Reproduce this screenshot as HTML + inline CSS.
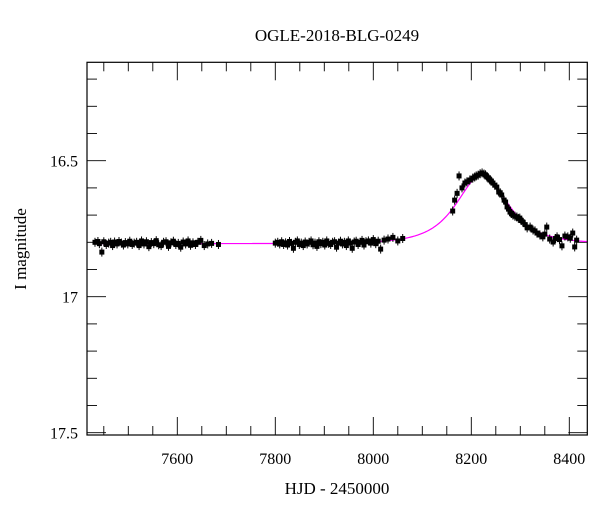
<!DOCTYPE html>
<html><head><meta charset="utf-8"><style>
html,body{margin:0;padding:0;background:#fff;}
svg{display:block;font-family:"Liberation Serif","DejaVu Serif",serif;}
</style></head><body>
<svg id="chart" width="600" height="512" viewBox="0 0 600 512" xmlns="http://www.w3.org/2000/svg">
<text x="337" y="41" font-size="17" text-anchor="middle">OGLE-2018-BLG-0249</text>
<text x="337" y="494" font-size="17" text-anchor="middle">HJD - 2450000</text>
<text x="0" y="0" font-size="17" text-anchor="middle" transform="translate(26,249) rotate(-90)">I magnitude</text>
<g id="ticks"></g>
<g id="model"></g>
<g id="pts"></g>
<rect x="87" y="62.3" width="500.3" height="372.7" fill="none" stroke="#000" stroke-width="1.2"/>
</svg>
<script>
const xTicksMajor = [7600, 7800, 8000, 8200, 8400];
const xTickLabels = ["7600", "7800", "8000", "8200", "8400"];
const yTicksMajor = [16.5, 17, 17.5];
const yTickLabels = ["16.5", "17", "17.5"];
const modelParams = [8222, 1.13, 58, 16.805]; // t0, u0, tE, baseline mag
const obsT = [7432,7438,7441,7446,7450,7455,7460,7464,7468,7472,7477,7481,7486,7490,7494,7499,7503,7508,7512,7517,7522,7527,7532,7537,7542,7547,7552,7557,7562,7567,7572,7577,7582,7587,7592,7597,7602,7607,7612,7617,7622,7627,7632,7637,7642,7648,7655,7662,7670,7684,
7800,7805,7809,7813,7817,7821,7825,7829,7833,7837,7841,7845,7849,7853,7857,7861,7865,7869,7873,7877,7881,7885,7889,7893,7897,7901,7905,7909,7913,7917,7921,7925,7929,7933,7937,7941,7945,7949,7953,7957,7961,7965,7969,7973,7977,7981,7985,7990,7995,8000,8005,8010,8015,8022,8030,8040,8050,8060,
8162,8166,8171,8175,8181,8187,8191,8197,8203,8207,8210,8214,8218,8222,8226,8229,8232,8235,8238,8241,8244,8248,8252,8256,8259,8262,8267,8270,8273,8276,8279,8282,8285,8289,8293,8296,8299,8302,8305,8310,8314,8320,8326,8330,8334,8340,8346,8350,8354,8360,8367,8372,8375,8380,8385,8391,8397,8402,8407,8411,8415];
const obsM = [16.800,16.797,16.805,16.836,16.798,16.808,16.803,16.800,16.812,16.799,16.806,16.797,16.803,16.810,16.801,16.806,16.796,16.808,16.803,16.800,16.812,16.795,16.806,16.798,16.816,16.801,16.805,16.794,16.809,16.812,16.800,16.798,16.815,16.802,16.796,16.808,16.804,16.818,16.799,16.806,16.795,16.811,16.802,16.808,16.800,16.793,16.812,16.806,16.804,16.808,
16.803,16.800,16.806,16.798,16.808,16.802,16.810,16.797,16.804,16.822,16.800,16.795,16.808,16.803,16.812,16.799,16.806,16.800,16.795,16.809,16.803,16.815,16.798,16.805,16.800,16.810,16.795,16.804,16.808,16.800,16.798,16.818,16.803,16.796,16.806,16.800,16.812,16.795,16.803,16.822,16.799,16.796,16.808,16.800,16.793,16.810,16.798,16.795,16.803,16.790,16.805,16.796,16.825,16.792,16.788,16.782,16.795,16.786,
16.685,16.645,16.620,16.556,16.600,16.582,16.578,16.571,16.564,16.560,16.556,16.553,16.548,16.545,16.549,16.552,16.560,16.563,16.571,16.575,16.582,16.590,16.597,16.615,16.618,16.626,16.645,16.652,16.670,16.678,16.689,16.694,16.700,16.704,16.707,16.712,16.711,16.720,16.725,16.735,16.747,16.744,16.755,16.758,16.766,16.773,16.780,16.770,16.744,16.788,16.799,16.786,16.780,16.790,16.813,16.777,16.780,16.785,16.766,16.817,16.792];

const svg = document.getElementById('chart');
const NS = 'http://www.w3.org/2000/svg';
const X0 = 87, X1 = 587.3, Y0 = 62.3, Y1 = 435;
function xs(t){ return 177.3 + (t - 7600) * 0.49; }
function ys(m){ return 160.7 + (m - 16.5) * 272; }
function mk(tag, attrs, parent){ const e = document.createElementNS(NS, tag); for (const k in attrs) e.setAttribute(k, attrs[k]); parent.appendChild(e); return e; }

const tg = document.getElementById('ticks');
// x ticks: major with labels, minor every 50
for (let t = 7450; t <= 8437; t += 50) {
  const x = xs(t);
  const major = xTicksMajor.includes(t);
  const L = major ? 18 : 9;
  const a = mk('line', {x1:x, x2:x, y1:Y1, y2:Y1-L, stroke:'#000', 'stroke-width':0.9}, tg);
  
  
  const b = mk('line', {x1:x, x2:x, y1:Y0, y2:Y0+L, stroke:'#000', 'stroke-width':0.9}, tg);
  
  
}
xTicksMajor.forEach((t, i) => {
  const tx = mk('text', {x:xs(t), y:464, 'font-size':16, 'text-anchor':'middle'}, tg);
  
  
  tx.textContent = xTickLabels[i];
});
// y ticks minor every 0.1
for (let k = 2; k <= 15; k++) {
  const m = 16 + k * 0.1;
  const y = ys(m);
  if (y < Y0 || y > Y1 + 0.5) continue;
  const major = (k % 5 === 0);
  const L = major ? 19 : 10;
  const a = mk('line', {x1:X0, x2:X0+L, y1:y, y2:y, stroke:'#000', 'stroke-width':0.9}, tg);
  
  
  const b = mk('line', {x1:X1, x2:X1-L, y1:y, y2:y, stroke:'#000', 'stroke-width':0.9}, tg);
  
  
}
yTicksMajor.forEach((m, i) => {
  const tx = mk('text', {x:78, y:ys(m)+6, 'font-size':16, 'text-anchor':'end'}, tg);
  
  
  tx.textContent = yTickLabels[i];
});

// model curve
function modelMag(t){
  const [t0, u0, tE, base] = modelParams;
  const tau = (t - t0) / tE;
  const u = Math.sqrt(u0*u0 + tau*tau);
  const A = (u*u + 2) / (u * Math.sqrt(u*u + 4));
  return base - 2.5 * Math.log10(A);
}
let d = '';
for (let t = 7432; t <= 8437; t += 2) d += (d ? 'L' : 'M') + xs(t).toFixed(2) + ',' + ys(modelMag(t)).toFixed(2);
const mp = mk('path', {d:d, fill:'none', stroke:'#ff00ff', 'stroke-width':1.2}, document.getElementById('model'));



// points
const pg = document.getElementById('pts');
obsT.forEach((t, i) => {
  const x = xs(t), y = ys(obsM[i]);
  const e = mk('line', {x1:x, x2:x, y1:y-4.5, y2:y+4.5, stroke:'#000', 'stroke-width':1}, pg);
  
  
  const r = mk('rect', {x:x-2.5, y:y-2.5, width:5, height:5, fill:'#000'}, pg);
  
  
});
</script>
</body></html>
